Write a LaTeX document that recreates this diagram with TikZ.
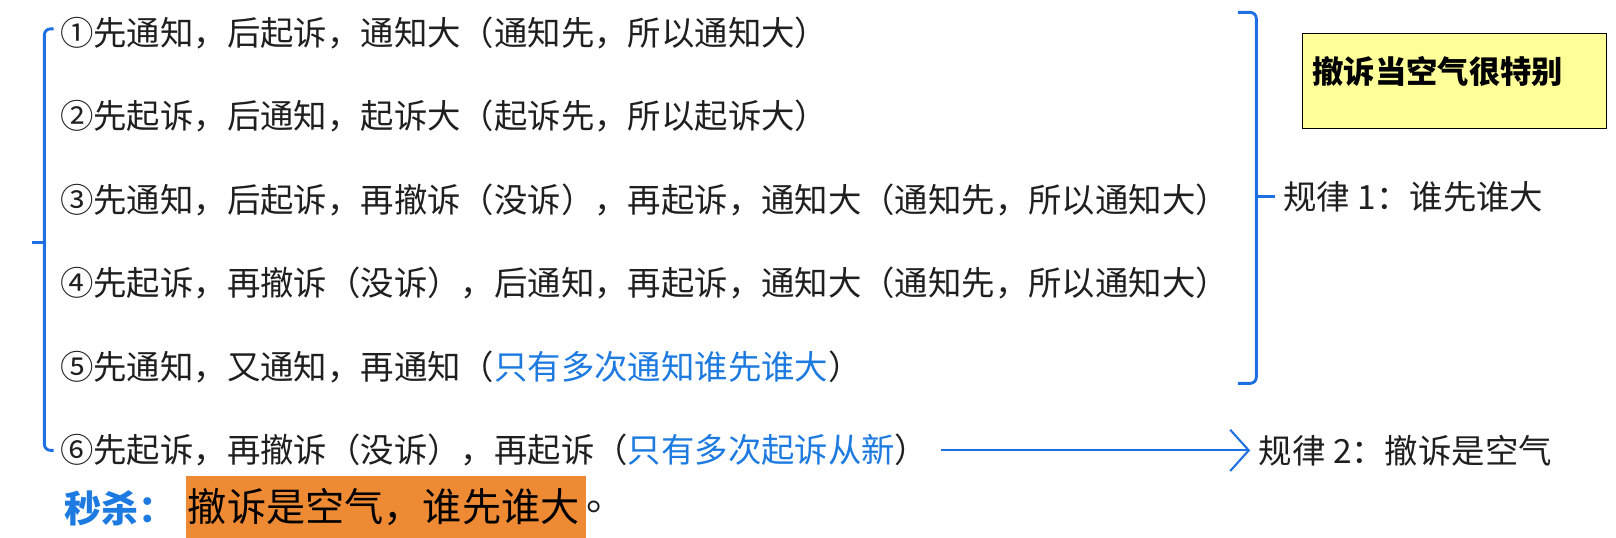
\documentclass[tikz,border=0pt]{standalone}
\usepackage{fontspec}
\usepackage{xcolor}
\setmainfont{Noto Sans CJK SC}
\usetikzlibrary{arrows.meta, positioning}

\definecolor{braceblue}{HTML}{1E6FE3}
\definecolor{noteblue}{HTML}{1C7AE0}
\definecolor{boxyellow}{HTML}{FFFF99}
\definecolor{killorange}{HTML}{EE8A33}
\newcommand{\hint}[1]{\textcolor{noteblue}{#1}}

\begin{document}
\begin{tikzpicture}[
  x=0.5pt, y=-0.5pt,
  font=\fontsize{16.2}{20}\selectfont,
  item/.style={anchor=west, inner sep=0pt, text=black!88},
  rule/.style={anchor=west, inner xsep=4pt, inner ysep=0pt, text=black!88},
  brace/.style={draw=braceblue, line width=1.4pt, rounded corners=3pt},
  flow/.style={-{Straight Barb[length=9pt, width=20pt]}, draw=braceblue,
               line width=1pt, shorten <=6pt},
  tip/.style={draw=black, line width=0.6pt, fill=boxyellow, anchor=north west,
              inner xsep=5pt, inner ysep=6pt, text width=137.5pt, align=left,
              text height=18pt, text depth=16pt,
              font=\fontsize{15.2}{18}\selectfont\bfseries},
]
\useasboundingbox (0,0) rectangle (1568,522);

% the six cases
\node[item] (c1) at (58,32)  {①先通知，后起诉，通知大（通知先，所以通知大）};
\node[item] (c2) at (58,113) {②先起诉，后通知，起诉大（起诉先，所以起诉大）};
\node[item] (c3) at (58,194) {③先通知，后起诉，再撤诉（没诉），再起诉，通知大（通知先，所以通知大）};
\node[item] (c4) at (58,275) {④先起诉，再撤诉（没诉），后通知，再起诉，通知大（通知先，所以通知大）};
\node[item] (c5) at (58,356) {⑤先通知，又通知，再通知（\hint{只有多次通知谁先谁大}）};
\node[item] (c6) at (58,437) {⑥先起诉，再撤诉（没诉），再起诉（\hint{只有多次起诉从新}）};

% rules
\node[rule] (r1) at (1237,191) {规律 1：谁先谁大};
\node[rule] (r2) at (1213,437) {规律 2：撤诉是空气};
\node[tip] (note) at (1263,32) {撤诉当空气很特别};

% braces
\draw[brace] (52,28) -- (43,28) -- (43,437) -- (52,437);
\draw[brace] (43,235) -- (31,235);
\draw[brace] (1201,12) -- (1219,12) -- (1219,372) -- (1201,372);
\draw[brace] (1219,191) -- (r1.west);

\draw[flow] (c6) -- (r2);

% bottom line
\node[item, text=noteblue, font=\fontsize{18}{20}\selectfont\bfseries] (kill) at (62,493) {秒杀：};
\node[fill=killorange, anchor=north west, inner xsep=1pt, inner ysep=0pt,
      text width=192pt, minimum height=30.5pt, align=left,
      font=\fontsize{19}{22}\selectfont] (key) at (180,461) {撤诉是空气，谁先谁大};
\node[item, font=\fontsize{19}{22}\selectfont, anchor=west] (stop) at (key.east) {。};

\end{tikzpicture}
\end{document}
